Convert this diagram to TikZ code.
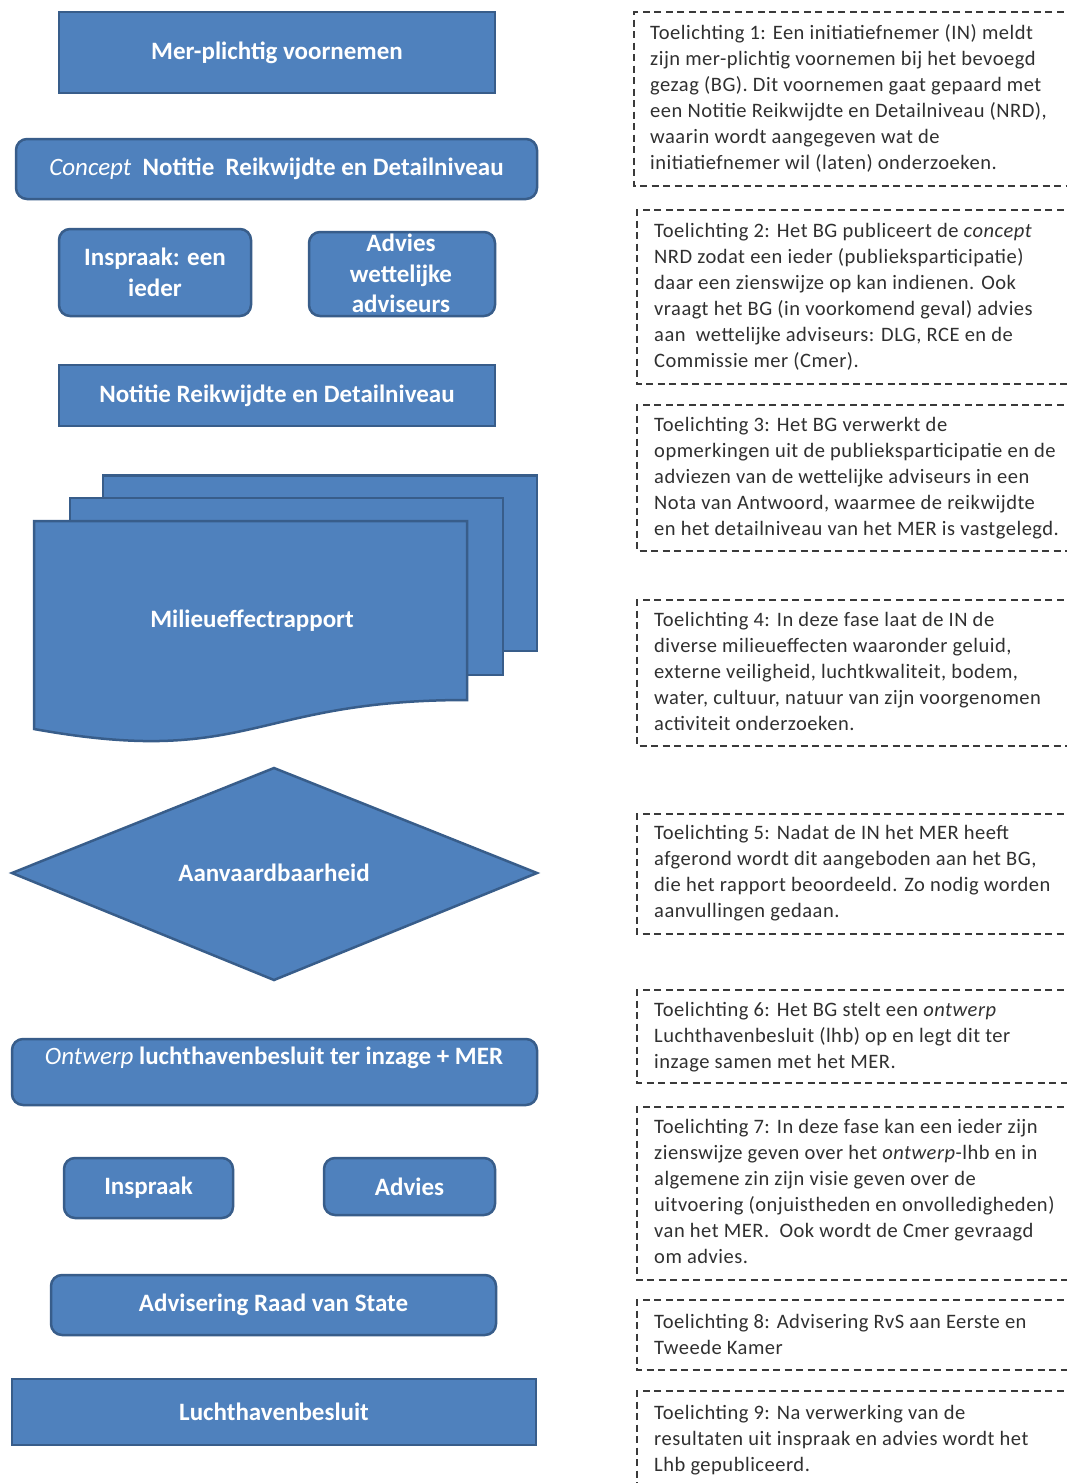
\documentclass[tikz,border=0pt]{standalone}
\usepackage{fontspec}
\setmainfont{Carlito}
\newfontfamily\notefont[LetterSpace=2.5]{Carlito}
\definecolor{fillblue}{HTML}{4F81BD}
\definecolor{edgeblue}{HTML}{385D8A}
\definecolor{notegray}{HTML}{3A3A3A}
\definecolor{textgray}{HTML}{303030}
\begin{document}
\begin{tikzpicture}[x=1pt,y=-1pt,
  shp/.style={fill=fillblue,draw=edgeblue,line width=2.5pt},
  lbl/.style={text=white,inner sep=0pt,align=center,font=\fontsize{25}{30.5}\selectfont\bfseries},
  sqbox/.style={shp,rectangle,inner sep=0pt,lbl},
  rbox/.style={sqbox,rounded corners=11pt},
  note/.style={draw=notegray,line width=1.3pt,dash pattern=on 7pt off 4.5pt},
  notetext/.style={anchor=base west,inner sep=0pt,text=textgray,font=\notefont\fontsize{20.5}{26}\selectfont}
]
\useasboundingbox (0,0) rectangle (1067,1483);
\clip (0,0) rectangle (1067,1483);
\fill[white] (0,0) rectangle (1067,1483);

% ---------- left column ----------
\node[sqbox,minimum width=436pt,minimum height=81pt] (mer) at (277,52.5) {Mer-plichtig voornemen};
\node[rbox,minimum width=521pt,minimum height=60pt] (concept) at (276.5,169) {{\mdseries\itshape Concept}\ \ Notitie\ \ Reikwijdte en Detailniveau};
\node[rbox,minimum width=192pt,minimum height=87pt] (insp1) at (155,272.5) {Inspraak: een\\ieder};
\node[rbox,minimum width=186pt,minimum height=84pt] (adv1) at (402,274) {};
\node[lbl] (adv1t) at (401,273.5) {Advies\\wettelijke\\adviseurs};
\node[sqbox,minimum width=436pt,minimum height=61pt] (nrd) at (277,395.5) {Notitie Reikwijdte en Detailniveau};

% multidocument
\path[shp] (103,475.5) rectangle (537,651);
\path[shp] (70,498) rectangle (503,675);
\path[shp] (34,521) -- (467,521) -- (467,700) .. controls (250.5,700) and (250.5,768) .. (34,729) -- cycle;
\node[lbl] (mer2) at (252,621) {Milieueffectrapport};

% decision diamond
\path[shp] (12,873) -- (274,768) -- (537,873) -- (274,980) -- cycle;
\node[lbl] (aanv) at (274,873) {Aanvaardbaarheid};

\node[rbox,minimum width=525pt,minimum height=66pt] (ontw) at (274.5,1072) {};
\node[lbl] (ontwt) at (274,1058) {{\mdseries\itshape Ontwerp} luchthavenbesluit ter inzage + MER};
\node[rbox,minimum width=169pt,minimum height=60pt] (insp2) at (148.5,1188) {Inspraak};
\node[rbox,minimum width=171pt,minimum height=57pt] (adv2) at (409.5,1186.5) {Advies};
\node[rbox,minimum width=445pt,minimum height=60pt] (rvs) at (273.5,1305) {Advisering Raad van State};
\node[sqbox,minimum width=524pt,minimum height=66pt] (lhb) at (274,1412) {Luchthavenbesluit};

% ---------- right column: notes ----------
\draw[note] (1075,12) -- (634,12) -- (634,186) -- (1075,186);
\node[notetext] (t1) at (650,39) {\parbox[t]{420pt}{Toelichting 1: Een initiatiefnemer (IN) meldt\\zijn mer-plichtig voornemen bij het bevoegd\\gezag (BG). Dit voornemen gaat gepaard met\\een Notitie Reikwijdte en Detailniveau (NRD),\\waarin wordt aangegeven wat de\\initiatiefnemer wil (laten) onderzoeken.}};

\draw[note] (1075,210) -- (637,210) -- (637,384) -- (1075,384);
\node[notetext] (t2) at (654,237) {\parbox[t]{420pt}{Toelichting 2: Het BG publiceert de \textit{concept}\\NRD zodat een ieder (publieksparticipatie)\\daar een zienswijze op kan indienen. Ook\\vraagt het BG (in voorkomend geval) advies\\aan\ \ wettelijke adviseurs: DLG, RCE en de\\Commissie mer (Cmer).}};

\draw[note] (1075,405) -- (637,405) -- (637,551) -- (1075,551);
\node[notetext] (t3) at (654,431) {\parbox[t]{420pt}{Toelichting 3: Het BG verwerkt de\\opmerkingen uit de publieksparticipatie en de\\adviezen van de wettelijke adviseurs in een\\Nota van Antwoord, waarmee de reikwijdte\\en het detailniveau van het MER is vastgelegd.}};

\draw[note] (1075,600) -- (637,600) -- (637,746) -- (1075,746);
\node[notetext] (t4) at (654,626) {\parbox[t]{420pt}{Toelichting 4: In deze fase laat de IN de\\diverse milieueffecten waaronder geluid,\\externe veiligheid, luchtkwaliteit, bodem,\\water, cultuur, natuur van zijn voorgenomen\\activiteit onderzoeken.}};

\draw[note] (1075,814) -- (637,814) -- (637,934) -- (1075,934);
\node[notetext] (t5) at (654,839) {\parbox[t]{420pt}{Toelichting 5: Nadat de IN het MER heeft\\afgerond wordt dit aangeboden aan het BG,\\die het rapport beoordeeld. Zo nodig worden\\aanvullingen gedaan.}};

\draw[note] (1075,990) -- (637,990) -- (637,1083) -- (1075,1083);
\node[notetext] (t6) at (654,1016) {\parbox[t]{420pt}{Toelichting 6: Het BG stelt een \textit{ontwerp}\\Luchthavenbesluit (lhb) op en legt dit ter\\inzage samen met het MER.}};

\draw[note] (1075,1107) -- (637,1107) -- (637,1280) -- (1075,1280);
\node[notetext] (t7) at (654,1133) {\parbox[t]{420pt}{Toelichting 7: In deze fase kan een ieder zijn\\zienswijze geven over het \textit{ontwerp}-lhb en in\\algemene zin zijn visie geven over de\\uitvoering (onjuistheden en onvolledigheden)\\van het MER.\ \ Ook wordt de Cmer gevraagd\\om advies.}};

\draw[note] (1075,1300) -- (637,1300) -- (637,1370) -- (1075,1370);
\node[notetext] (t8) at (654,1328) {\parbox[t]{420pt}{Toelichting 8: Advisering RvS aan Eerste en\\Tweede Kamer}};

\draw[note] (1075,1391) -- (637,1391) -- (637,1490);
\node[notetext] (t9) at (654,1419) {\parbox[t]{420pt}{Toelichting 9: Na verwerking van de\\resultaten uit inspraak en advies wordt het\\Lhb gepubliceerd.}};
\end{tikzpicture}
\end{document}
